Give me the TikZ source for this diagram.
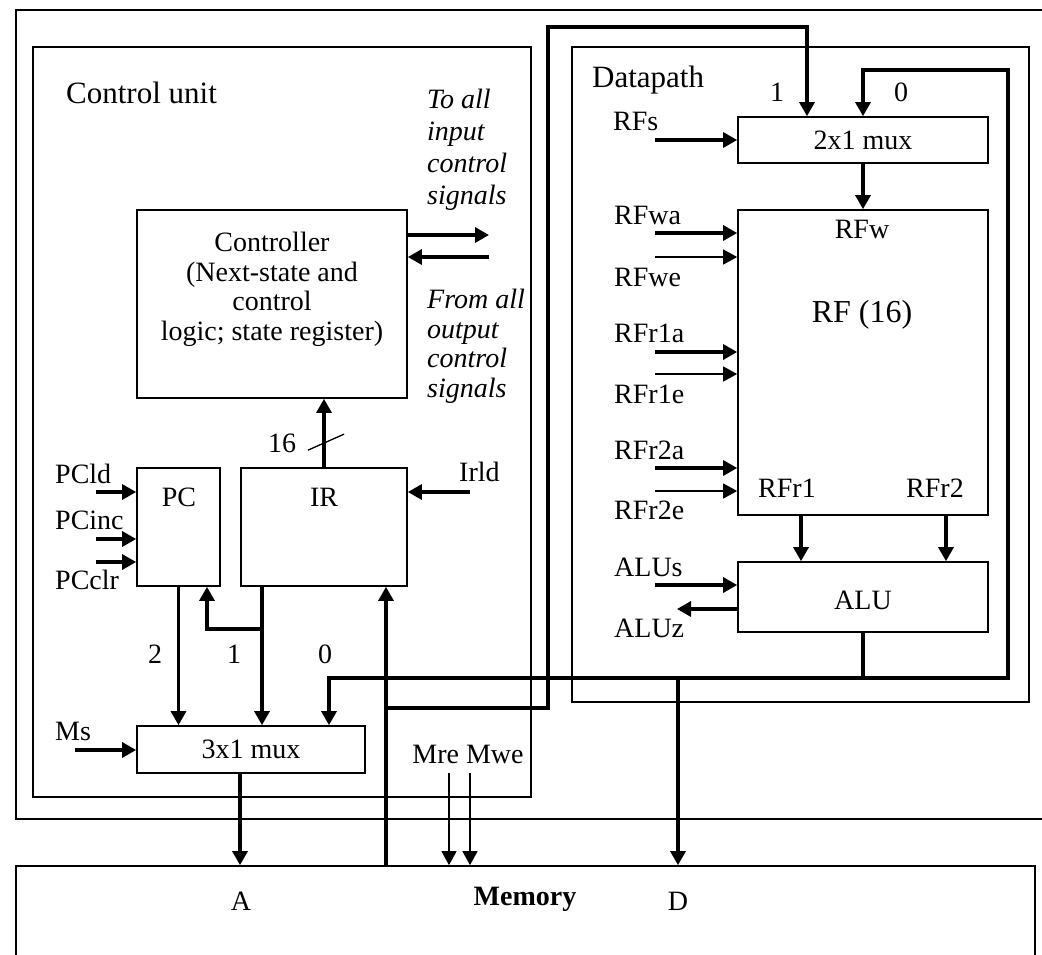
\documentclass[tikz,border=0pt]{standalone}
\usepackage{fontspec}
\setmainfont{Liberation Serif}
\usetikzlibrary{arrows.meta}

\tikzset{
  blk/.style={draw, line width=1.7pt, inner sep=0pt},
  frame/.style={line width=1.8pt},
  bus/.style={line width=3.2pt},
  busarr/.style={bus, -{Triangle[length=14pt,width=15pt]}},
  sigarr/.style={line width=1.3pt, -{Triangle[length=14pt,width=15pt]}},
  lbl/.style={inner sep=0pt, anchor=base west},
  ctr/.style={inner sep=0pt, anchor=base},
}

\begin{document}
\begin{tikzpicture}[x=1pt, y=-1pt, font=\fontsize{28}{32}\selectfont]
  \useasboundingbox (0,0) rectangle (1042,954);

  % processor frame, runs off the right edge
  \draw[frame] (1060,10) -- (16,10) -- (16,819) -- (1060,819);

  % control unit
  \node[blk, minimum width=498pt, minimum height=750pt] (cu) at (282,422) {};
  \node[lbl, font=\fontsize{31}{34}\selectfont] (cutxt) at (66,103) {Control unit};
  \node[blk, minimum width=270pt, minimum height=188pt] (ctrl) at (272,304) {};
  \node[inner sep=0pt, anchor=north, align=center, font=\fontsize{28}{29.5}\selectfont]
    (ctrltxt) at (272,232) {Controller\\(Next-state and\\control\\logic; state register)};
  \node[inner sep=0pt, anchor=north west, align=left, font=\itshape\fontsize{28}{32}\selectfont]
    (toall) at (427,89) {To all\\input\\control\\signals};
  \node[inner sep=0pt, anchor=north west, align=left, font=\itshape\fontsize{28}{29.5}\selectfont]
    (fromall) at (427,289) {From all\\output\\control\\signals};
  \coordinate (ctlout) at (489,235);
  \coordinate (ctlin) at (489,257);
  \draw[busarr] (ctrl.east |- ctlout) -- (ctlout);
  \draw[busarr] (ctlin) -- (ctlin -| ctrl.east);

  \node[blk, minimum width=83pt, minimum height=118pt] (pc) at (178.5,527) {};
  \node[ctr] (pctxt) at (179,506) {PC};
  \node[blk, minimum width=166pt, minimum height=118pt] (ir) at (324,527) {};
  \node[ctr] (irtxt) at (324,506) {IR};
  \draw[busarr] (ir.north) -- (ir.north |- ctrl.south);
  \draw[line width=1.3pt] ([shift={(-16,-17)}]ir.north) -- ++(36,-16);
  \node[ctr] (width) at (282,452) {16};

  \node[lbl] (pcld) at (55,483) {PCld};
  \node[lbl] (pcinc) at (55,529) {PCinc};
  \node[lbl] (pcclr) at (55,589) {PCclr};
  \coordinate (ldin) at (96,492);
  \coordinate (incin) at (96,539);
  \coordinate (clrin) at (96,562);
  \draw[busarr] (ldin) -- (ldin -| pc.west);
  \draw[busarr] (incin) -- (incin -| pc.west);
  \draw[busarr] (clrin) -- (clrin -| pc.west);
  \node[lbl] (irld) at (459,481) {Irld};
  \coordinate (irldin) at (470,492);
  \draw[busarr] (irldin) -- (irldin -| ir.east);

  % address mux
  \node[blk, minimum width=228pt, minimum height=47pt] (mux3) at (251,749.5) {3x1 mux};
  \node[lbl] (ms) at (55,740) {Ms};
  \coordinate (msin) at (75,750);
  \draw[busarr] (msin) -- (msin -| mux3.west);
  \node[ctr] (in2) at (155,663) {2};
  \node[ctr] (in1) at (234,663) {1};
  \node[ctr] (in0) at (325,663) {0};
  \draw[busarr] (pc.south) -- (pc.south |- mux3.north);
  \coordinate (irtap) at (262,629);
  \draw[busarr] (ir.south -| irtap) -- (irtap |- mux3.north);
  \draw[busarr] (irtap) -| ([xshift=28.5pt]pc.south);

  % datapath
  \node[blk, minimum width=457pt, minimum height=655pt] (dp) at (800.5,374.5) {};
  \node[lbl, font=\fontsize{31}{34}\selectfont] (dptxt) at (592,87) {Datapath};
  \node[blk, minimum width=250pt, minimum height=46pt] (mux2) at (863,140) {2x1 mux};
  \node[blk, minimum width=250pt, minimum height=305pt] (rf) at (863,362.5) {};
  \node[blk, minimum width=250pt, minimum height=70pt] (alu) at (863,597) {};
  \node[ctr] (alutxt) at (863,609) {ALU};
  \node[ctr] (rfw) at (862,238) {RFw};
  \node[ctr, font=\fontsize{32}{36}\selectfont] (rftxt) at (862,322) {RF (16)};
  \node[ctr] (rfr1) at (787,497) {RFr1};
  \node[ctr] (rfr2) at (935,497) {RFr2};
  \node[ctr] (sel1) at (777,101) {1};
  \node[ctr] (sel0) at (901,101) {0};
  \draw[busarr] (mux2.south) -- (rf.north);
  \draw[busarr] ([xshift=-62pt]rf.south) -- ([xshift=-62pt]alu.north);
  \draw[busarr] ([xshift=83pt]rf.south) -- ([xshift=83pt]alu.north);

  \node[lbl] (rfs) at (613,130) {RFs};
  \node[lbl] (rfwa) at (614,224) {RFwa};
  \node[lbl] (rfwe) at (614,286) {RFwe};
  \node[lbl] (rfr1a) at (614,342) {RFr1a};
  \node[lbl] (rfr1e) at (614,403) {RFr1e};
  \node[lbl] (rfr2a) at (614,459) {RFr2a};
  \node[lbl] (rfr2e) at (614,519) {RFr2e};
  \node[lbl] (alus) at (614,576) {ALUs};
  \node[lbl] (aluz) at (614,637) {ALUz};
  \coordinate (rfsin) at (655,140);
  \coordinate (wain) at (655,233);
  \coordinate (wein) at (655,257);
  \coordinate (r1ain) at (655,352);
  \coordinate (r1ein) at (655,374);
  \coordinate (r2ain) at (655,468);
  \coordinate (r2ein) at (655,491);
  \coordinate (alusin) at (655,585);
  \coordinate (aluzout) at (677,609);
  \draw[busarr] (rfsin) -- (rfsin -| mux2.west);
  \draw[busarr] (wain) -- (wain -| rf.west);
  \draw[sigarr] (wein) -- (wein -| rf.west);
  \draw[busarr] (r1ain) -- (r1ain -| rf.west);
  \draw[sigarr] (r1ein) -- (r1ein -| rf.west);
  \draw[busarr] (r2ain) -- (r2ain -| rf.west);
  \draw[sigarr] (r2ein) -- (r2ein -| rf.west);
  \draw[busarr] (alusin) -- (alusin -| alu.west);
  \draw[busarr] (aluzout -| alu.west) -- (aluzout);

  % memory
  \node[blk, minimum width=1019pt, minimum height=124pt] (mem) at (525.5,928) {};
  \node[ctr] (atxt) at (241,910) {A};
  \node[ctr, font=\bfseries\fontsize{28}{32}\selectfont] (memtxt) at (525,905) {Memory};
  \node[ctr] (dtxt) at (678,910) {D};
  \node[ctr] (mctl) at (468,763) {Mre Mwe};
  \coordinate (mre) at (449,773);
  \coordinate (mwe) at (470,773);
  \draw[sigarr] (mre) -- (mre |- mem.north);
  \draw[sigarr] (mwe) -- (mwe |- mem.north);
  \draw[busarr] ([xshift=-11pt]mux3.south) -- ([xshift=-11pt]mux3.south |- mem.north);

  % buses
  \coordinate (mbus) at (386,708);
  \draw[busarr] (mbus |- mem.north) -- (mbus |- ir.south);
  \draw[busarr] (mbus) -| (548,27) -| ([xshift=-56pt]mux2.north);
  \coordinate (aluo) at (863,678);
  \draw[busarr] (alu.south) |- (1008,678) |- (863,70) -- (mux2.north);
  \draw[busarr] (aluo) -| ([xshift=78pt]mux3.north);
  \coordinate (dtap) at (678,678);
  \draw[busarr] (dtap) -- (dtap |- mem.north);
\end{tikzpicture}
\end{document}
